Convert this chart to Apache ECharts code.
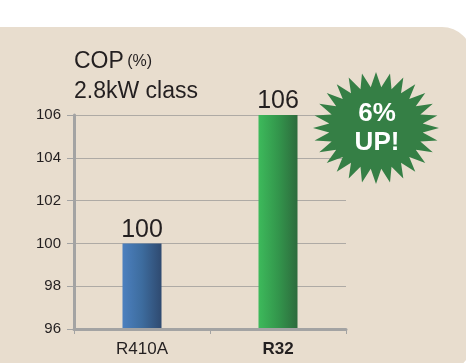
<!DOCTYPE html>
<html>
<head>
<meta charset="utf-8">
<style>
  html, body { margin: 0; padding: 0; background: #ffffff; }
  #chart { width: 466px; height: 363px; }
</style>
<script src="https://cdn.jsdelivr.net/npm/echarts@6/dist/echarts.min.js"></script>
</head>
<body>
<div id="chart"></div>
<script>
// COP comparison, 2.8kW class
const categories = ['R410A', 'R32'];
const copValues = [100, 106];
const yTicks = { min: 96, max: 106, step: 2 };

const barGradients = [
  ['#4c80bf', '#3d6c9e', '#2f4a70'],
  ['#3dba5b', '#33964c', '#2d6b3d']
];

// Starburst badge outline (decoration)
function starPoints(cx, cy, rxOut, ryOut, rxIn, ryIn, spikes) {
  const pts = [];
  for (let i = 0; i < spikes * 2; i++) {
    const a = -Math.PI / 2 + (i * Math.PI) / spikes;
    const outer = i % 2 === 0;
    const rx = outer ? rxOut : rxIn;
    const ry = outer ? ryOut : ryIn;
    pts.push([cx + rx * Math.cos(a), cy + ry * Math.sin(a)]);
  }
  return pts;
}

const chart = echarts.init(document.getElementById('chart'), null, { renderer: 'canvas' });
const fontFamily = '"Liberation Sans", Arial, Helvetica, sans-serif';

chart.setOption({
  backgroundColor: '#ffffff',
  animation: false,
  grid: { left: 74, right: 120, top: 115, bottom: 34 },
  xAxis: {
    type: 'category',
    data: categories,
    axisLine: { lineStyle: { color: '#a3a3a3', width: 3 } },
    axisTick: { show: true, length: 5, lineStyle: { color: '#a3a3a3', width: 1 } },
    axisLabel: {
      margin: 12,
      color: '#231f20',
      fontSize: 17,
      fontFamily: fontFamily,
      formatter: function (v) { return v === 'R32' ? '{b|' + v + '}' : v; },
      rich: { b: { fontWeight: 'bold', fontSize: 17, color: '#231f20', fontFamily: fontFamily } }
    },
    z: 3
  },
  yAxis: {
    type: 'value',
    min: yTicks.min,
    max: yTicks.max,
    interval: yTicks.step,
    axisLine: { show: true, lineStyle: { color: '#a3a3a3', width: 3 } },
    axisTick: { show: true, length: 7, lineStyle: { color: '#a3a3a3', width: 1 } },
    axisLabel: { color: '#231f20', fontSize: 15, fontFamily: fontFamily, margin: 13 },
    splitLine: { lineStyle: { color: '#aeaaa5', width: 1.2 } }
  },
  series: [{
    type: 'bar',
    barWidth: 39,
    data: copValues.map(function (v, i) {
      const g = barGradients[i];
      return {
        value: v,
        itemStyle: {
          color: new echarts.graphic.LinearGradient(0, 0, 1, 0, [
            { offset: 0, color: g[0] },
            { offset: 0.5, color: g[1] },
            { offset: 1, color: g[2] }
          ])
        }
      };
    }),
    label: {
      show: true,
      position: 'top',
      distance: 1,
      color: '#231f20',
      fontSize: 25,
      fontFamily: fontFamily
    },
    z: 2
  }],
  graphic: [
    {
      type: 'rect',
      z: -10,
      silent: true,
      shape: { x: 0, y: 27, width: 472, height: 345, r: [0, 30, 30, 0] },
      style: { fill: '#e8ddce' }
    },
    {
      type: 'text',
      left: 74, top: 50,
      style: {
        text: '{a|COP} {b|(%)}',
        rich: {
          a: { fontSize: 23, fontFamily: fontFamily, fill: '#231f20' },
          b: { fontSize: 16, fontFamily: fontFamily, fill: '#231f20' }
        }
      }
    },
    {
      type: 'text',
      left: 74, top: 80,
      style: { text: '2.8kW class', fontSize: 23, fontFamily: fontFamily, fill: '#231f20' }
    },
    {
      type: 'polygon',
      z: 10,
      shape: { points: starPoints(376, 128, 63, 56, 47, 41, 28) },
      style: { fill: '#357f45' }
    },
    {
      type: 'text',
      z: 11,
      x: 377, y: 114,
      style: {
        text: '6%', fontSize: 26, fontWeight: 'bold', fontFamily: fontFamily,
        fill: '#ffffff', align: 'center', verticalAlign: 'middle'
      }
    },
    {
      type: 'text',
      z: 11,
      x: 377, y: 143,
      style: {
        text: 'UP!', fontSize: 26, fontWeight: 'bold', fontFamily: fontFamily,
        fill: '#ffffff', align: 'center', verticalAlign: 'middle'
      }
    }
  ]
});
</script>
</body>
</html>
